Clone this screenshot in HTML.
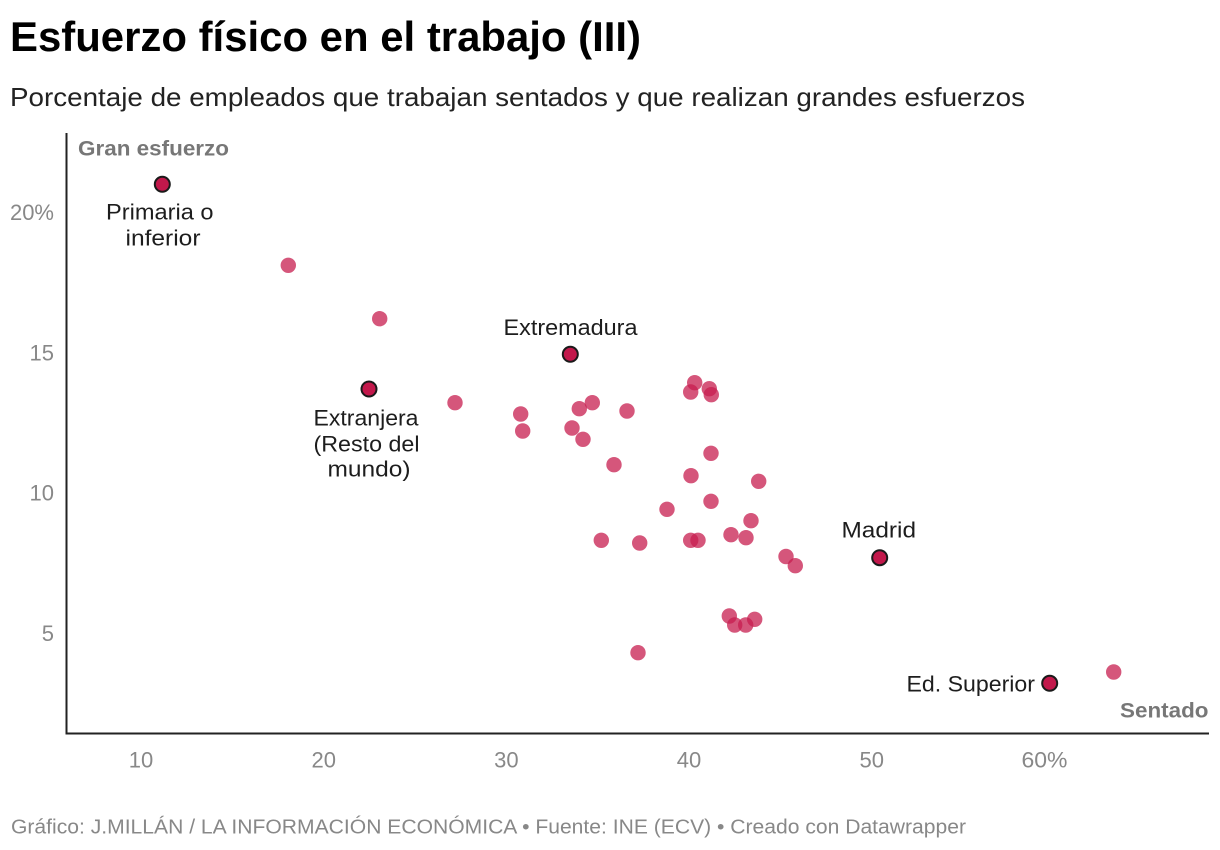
<!DOCTYPE html>
<html>
<head>
<meta charset="utf-8">
<style>
  html, body { margin: 0; padding: 0; background: #ffffff; }
  svg { display: block; }
  text { font-family: "Liberation Sans", Arial, sans-serif; }
</style>
</head>
<body>
<svg width="1220" height="850" viewBox="0 0 1220 850" xmlns="http://www.w3.org/2000/svg">
  <rect x="0" y="0" width="1220" height="850" fill="#ffffff"/>

  <!-- Title & subtitle -->
  <text x="10" y="51" font-size="42" font-weight="bold" fill="#000000" textLength="631" lengthAdjust="spacingAndGlyphs">Esfuerzo físico en el trabajo (III)</text>
  <text x="10" y="106" font-size="26" fill="#222222" textLength="1015" lengthAdjust="spacingAndGlyphs">Porcentaje de empleados que trabajan sentados y que realizan grandes esfuerzos</text>

  <!-- Axes -->
  <line x1="66.5" y1="133" x2="66.5" y2="734.5" stroke="#222222" stroke-width="2"/>
  <line x1="66" y1="733.5" x2="1209" y2="733.5" stroke="#222222" stroke-width="2"/>

  <!-- Axis titles -->
  <text x="78" y="155.5" font-size="21" font-weight="bold" fill="#777777" textLength="151" lengthAdjust="spacingAndGlyphs">Gran esfuerzo</text>
  <text x="1120" y="717.5" font-size="21" font-weight="bold" fill="#777777" textLength="88.5" lengthAdjust="spacingAndGlyphs">Sentado</text>

  <!-- Y tick labels -->
  <g font-size="22" fill="#888888" text-anchor="end">
    <text x="54" y="220">20%</text>
    <text x="54" y="360.3">15</text>
    <text x="54" y="500.7">10</text>
    <text x="54" y="641">5</text>
  </g>

  <!-- X tick labels -->
  <g font-size="22" fill="#888888" text-anchor="middle">
    <text x="141" y="767.7">10</text>
    <text x="323.7" y="767.7">20</text>
    <text x="506.4" y="767.7">30</text>
    <text x="689" y="767.7">40</text>
    <text x="871.7" y="767.7">50</text>
  </g>
  <text x="1021.5" y="767.7" font-size="22" fill="#888888" textLength="46" lengthAdjust="spacingAndGlyphs">60%</text>

  <!-- Regular dots -->
  <g fill="#c71e4f" fill-opacity="0.75">
    <circle cx="288.3" cy="265.3" r="7.7"/>
    <circle cx="379.7" cy="318.7" r="7.7"/>
    <circle cx="455" cy="402.7" r="7.7"/>
    <circle cx="520.7" cy="414" r="7.7"/>
    <circle cx="522.7" cy="431" r="7.7"/>
    <circle cx="579.3" cy="408.7" r="7.7"/>
    <circle cx="592.3" cy="402.7" r="7.7"/>
    <circle cx="572" cy="428" r="7.7"/>
    <circle cx="583" cy="439.3" r="7.7"/>
    <circle cx="627" cy="411" r="7.7"/>
    <circle cx="694.7" cy="382.7" r="7.7"/>
    <circle cx="690.7" cy="392" r="7.7"/>
    <circle cx="709.3" cy="388.7" r="7.7"/>
    <circle cx="711.3" cy="394.7" r="7.7"/>
    <circle cx="711" cy="453.3" r="7.7"/>
    <circle cx="614" cy="464.7" r="7.7"/>
    <circle cx="691" cy="475.7" r="7.7"/>
    <circle cx="758.7" cy="481.3" r="7.7"/>
    <circle cx="711" cy="501.3" r="7.7"/>
    <circle cx="667" cy="509.3" r="7.7"/>
    <circle cx="751" cy="520.7" r="7.7"/>
    <circle cx="731" cy="534.7" r="7.7"/>
    <circle cx="746" cy="537.7" r="7.7"/>
    <circle cx="601.3" cy="540.3" r="7.7"/>
    <circle cx="639.7" cy="543" r="7.7"/>
    <circle cx="690.7" cy="540.3" r="7.7"/>
    <circle cx="698" cy="540.3" r="7.7"/>
    <circle cx="786" cy="556.5" r="7.7"/>
    <circle cx="795.3" cy="565.7" r="7.7"/>
    <circle cx="729.3" cy="616" r="7.7"/>
    <circle cx="734.7" cy="625" r="7.7"/>
    <circle cx="745.7" cy="625" r="7.7"/>
    <circle cx="754.7" cy="619.3" r="7.7"/>
    <circle cx="638" cy="652.7" r="7.7"/>
    <circle cx="1113.7" cy="672" r="7.7"/>
  </g>

  <!-- Highlighted dots -->
  <g fill="#c2184b" stroke="#1a1a1a" stroke-width="2">
    <circle cx="162.3" cy="184.3" r="7.5"/>
    <circle cx="369" cy="389" r="7.5"/>
    <circle cx="570.3" cy="354.3" r="7.5"/>
    <circle cx="879.7" cy="557.7" r="7.5"/>
    <circle cx="1049.7" cy="683.3" r="7.5"/>
  </g>

  <!-- Annotations -->
  <g font-size="22.5" fill="#1d1d1d">
    <text x="106" y="219.5" textLength="107.5" lengthAdjust="spacingAndGlyphs">Primaria o</text>
    <text x="125.5" y="245.7" textLength="75" lengthAdjust="spacingAndGlyphs">inferior</text>
    <text x="503.5" y="335" textLength="134" lengthAdjust="spacingAndGlyphs">Extremadura</text>
    <text x="313.5" y="425.7" textLength="105" lengthAdjust="spacingAndGlyphs">Extranjera</text>
    <text x="313.5" y="451.7" textLength="106" lengthAdjust="spacingAndGlyphs">(Resto del</text>
    <text x="327.5" y="476.7" textLength="83" lengthAdjust="spacingAndGlyphs">mundo)</text>
    <text x="841.5" y="537.3" textLength="74.5" lengthAdjust="spacingAndGlyphs">Madrid</text>
    <text x="906.5" y="691.7" textLength="128.5" lengthAdjust="spacingAndGlyphs">Ed. Superior</text>
  </g>

  <!-- Footer -->
  <text x="11" y="833.3" font-size="20" fill="#888888" textLength="955" lengthAdjust="spacingAndGlyphs">Gráfico: J.MILLÁN / LA INFORMACIÓN ECONÓMICA • Fuente: INE (ECV) • Creado con Datawrapper</text>
</svg>
</body>
</html>
